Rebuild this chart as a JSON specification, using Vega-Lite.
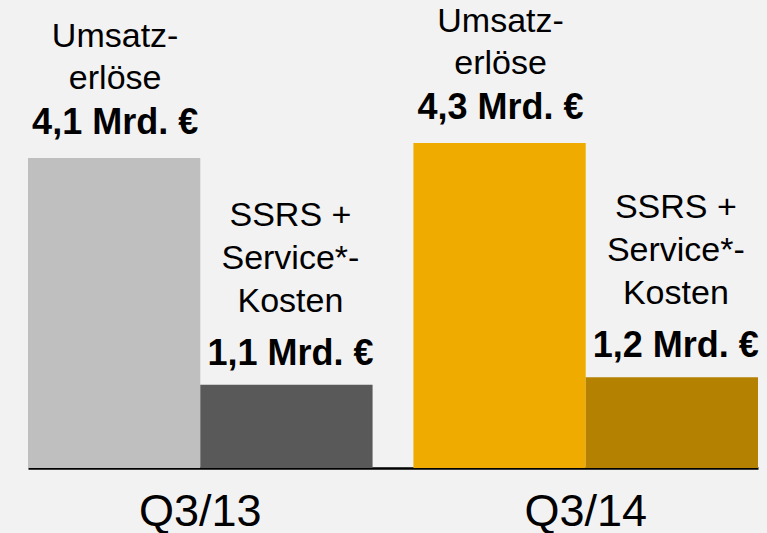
{
  "$schema": "https://vega.github.io/schema/vega-lite/v6.json",
  "autosize": "none",
  "width": 730,
  "height": 468,
  "padding": {"left": 28, "top": 0, "right": 9, "bottom": 65},
  "background": "#F2F2F2",
  "config": {
    "view": {"stroke": null},
    "font": "Liberation Sans"
  },
  "data": {
    "values": [
      {"quarter": "Q3/13", "series": "Umsatzerlöse", "id": "13U", "value": 4.1, "label": "Umsatz-\nerlöse", "valueLabel": "4,1 Mrd. €"},
      {"quarter": "Q3/13", "series": "SSRS + Service-Kosten", "id": "13K", "value": 1.1, "label": "SSRS +\nService*-\nKosten", "valueLabel": "1,1 Mrd. €"},
      {"quarter": "Q3/14", "series": "Umsatzerlöse", "id": "14U", "value": 4.3, "label": "Umsatz-\nerlöse", "valueLabel": "4,3 Mrd. €"},
      {"quarter": "Q3/14", "series": "SSRS + Service-Kosten", "id": "14K", "value": 1.2, "label": "SSRS +\nService*-\nKosten", "valueLabel": "1,2 Mrd. €"}
    ]
  },
  "encoding": {
    "x": {
      "field": "quarter",
      "type": "nominal",
      "sort": ["Q3/13", "Q3/14"],
      "scale": {"paddingInner": 0.106, "paddingOuter": 0},
      "axis": {
        "title": null,
        "labelAngle": 0,
        "ticks": false,
        "domainColor": "#000000",
        "domainWidth": 2.5,
        "labelFontSize": 45,
        "labelColor": "#000000",
        "labelFont": "Liberation Sans",
        "labelPadding": 21,
        "grid": false
      }
    },
    "xOffset": {"field": "series", "type": "nominal", "sort": ["Umsatzerlöse", "SSRS + Service-Kosten"]},
    "y": {"field": "value", "type": "quantitative", "scale": {"domain": [0, 6.19], "nice": false, "zero": true}, "axis": null}
  },
  "layer": [
    {
      "mark": {"type": "bar"},
      "encoding": {
        "color": {
          "field": "id",
          "type": "nominal",
          "scale": {"domain": ["13U", "13K", "14U", "14K"], "range": ["#BFBFBF", "#595959", "#F0AB00", "#B48200"]},
          "legend": null
        }
      }
    },
    {
      "transform": [{"filter": "datum.series === 'Umsatzerlöse'"}],
      "mark": {"type": "text", "fontSize": 36, "fontWeight": "bold", "baseline": "alphabetic", "align": "center", "dy": -24, "dx": 1, "color": "#000000"},
      "encoding": {"text": {"field": "valueLabel", "type": "nominal"}}
    },
    {
      "transform": [{"filter": "datum.series !== 'Umsatzerlöse'"}],
      "mark": {"type": "text", "fontSize": 36, "fontWeight": "bold", "baseline": "alphabetic", "align": "center", "dy": -20, "dx": 4, "color": "#000000"},
      "encoding": {"text": {"field": "valueLabel", "type": "nominal"}}
    },
    {
      "transform": [{"filter": "datum.series === 'Umsatzerlöse'"}],
      "mark": {"type": "text", "fontSize": 34, "baseline": "alphabetic", "align": "center", "dy": -111, "dx": 1, "lineBreak": "\n", "lineHeight": 42, "color": "#000000"},
      "encoding": {"text": {"field": "label", "type": "nominal"}}
    },
    {
      "transform": [{"filter": "datum.series !== 'Umsatzerlöse'"}],
      "mark": {"type": "text", "fontSize": 34, "baseline": "alphabetic", "align": "center", "dy": -159, "dx": 4, "lineBreak": "\n", "lineHeight": 43, "color": "#000000"},
      "encoding": {"text": {"field": "label", "type": "nominal"}}
    }
  ]
}
